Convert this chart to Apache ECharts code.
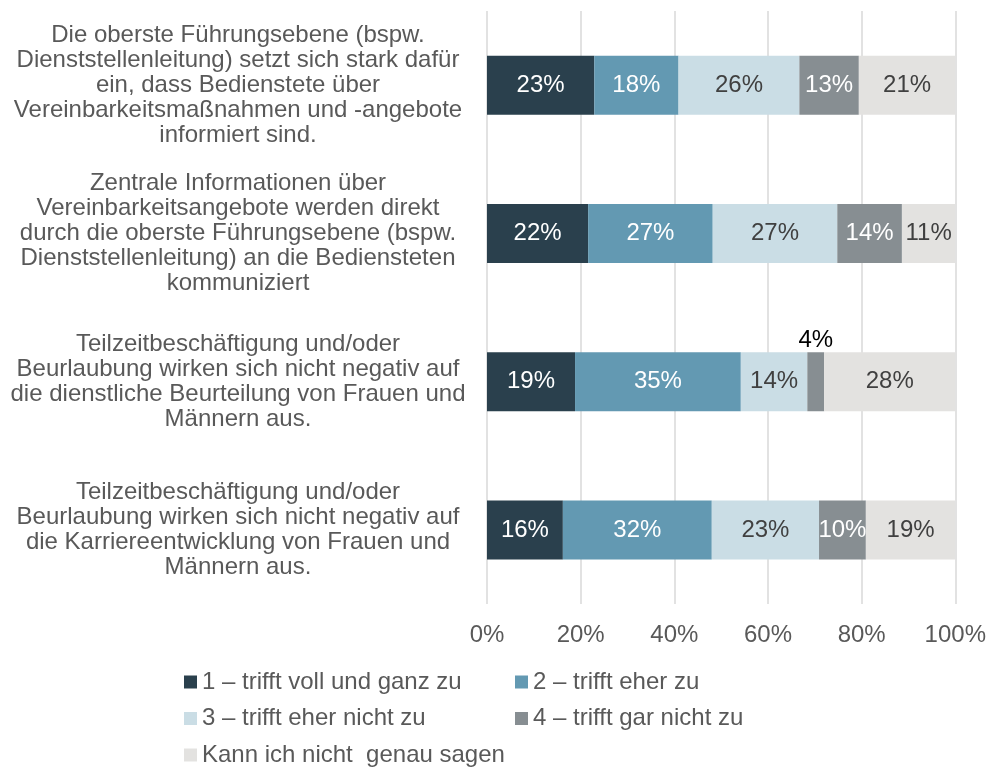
<!DOCTYPE html>
<html>
<head>
<meta charset="utf-8">
<script src="https://cdn.jsdelivr.net/npm/echarts@6/dist/echarts.min.js"></script>
<style>
  html, body { margin: 0; padding: 0; background: #fff; }
  #chart { width: 989px; height: 769px; }
</style>
</head>
<body>
<div id="chart"></div>
<script>
// Kategorien (Aussagen)
const categories = [
  'Die oberste Führungsebene (bspw.\nDienststellenleitung) setzt sich stark dafür\nein, dass Bedienstete über\nVereinbarkeitsmaßnahmen und -angebote\ninformiert sind.',
  'Zentrale Informationen über\nVereinbarkeitsangebote werden direkt\ndurch die oberste Führungsebene (bspw.\nDienststellenleitung) an die Bediensteten\nkommuniziert',
  'Teilzeitbeschäftigung und/oder\nBeurlaubung wirken sich nicht negativ auf\ndie dienstliche Beurteilung von Frauen und\nMännern aus.',
  'Teilzeitbeschäftigung und/oder\nBeurlaubung wirken sich nicht negativ auf\ndie Karriereentwicklung von Frauen und\nMännern aus.'
];

const seriesNames = [
  '1 – trifft voll und ganz zu',
  '2 – trifft eher zu',
  '3 – trifft eher nicht zu',
  '4 – trifft gar nicht zu',
  'Kann ich nicht  genau sagen'
];

// Anteile in % (aus dem Bild geschätzt)
const s1 = [22.9, 21.6, 18.8, 16.2];
const s2 = [18.0, 26.6, 35.4, 31.8];
const s3 = [25.8, 26.6, 14.2, 22.9];
const s4 = [12.7, 13.8, 3.6, 10.0];
const s5 = [20.6, 11.4, 28.0, 19.1];

const xTicks = [0, 20, 40, 60, 80, 100];

const colors = ['#2a404d', '#6399b2', '#cadde5', '#878e92', '#e3e2e0'];
const labelColors = ['#ffffff', '#ffffff', '#404040', '#ffffff', '#404040'];
const font = 'Liberation Sans, Arial, sans-serif';

const chart = echarts.init(document.getElementById('chart'));

const allSeries = [s1, s2, s3, s4, s5].map((vals, i) => ({
  name: seriesNames[i],
  type: 'bar',
  stack: 'total',
  barWidth: 59,
  itemStyle: { color: colors[i] },
  label: {
    show: true,
    position: 'inside',
    fontFamily: font,
    fontSize: 24,
    color: labelColors[i],
    formatter: p => Math.round(p.value) + '%'
  },
  data: vals.map(v => v < 5
    ? { value: v, label: { position: 'top', color: '#000000', distance: 0 } }
    : v)
}));

// zwei Legendenspalten
const legendBase = {
  orient: 'vertical',
  top: 665, height: 120,
  icon: 'rect', itemWidth: 13, itemHeight: 13, itemGap: 12.5,
  textStyle: { fontSize: 24, color: '#595959', fontFamily: font }
};

chart.setOption({
  animation: false,
  textStyle: { fontFamily: font },
  grid: { left: 487, right: 32, top: 11, bottom: 165 },
  legend: [
    Object.assign({}, legendBase, { left: 179, data: [seriesNames[0], seriesNames[2], seriesNames[4]] }),
    Object.assign({}, legendBase, { left: 510, data: [seriesNames[1], seriesNames[3]] })
  ],
  xAxis: {
    type: 'value',
    min: xTicks[0],
    max: xTicks[xTicks.length - 1],
    interval: 20,
    axisLine: { show: false },
    axisTick: { show: false },
    splitLine: { lineStyle: { color: '#d9d9d9', width: 1.5 } },
    axisLabel: {
      formatter: '{value}%',
      fontSize: 24,
      color: '#595959',
      margin: 19
    }
  },
  yAxis: {
    type: 'category',
    inverse: true,
    data: categories,
    axisLine: { show: false },
    axisTick: { show: false },
    axisLabel: {
      align: 'center',
      margin: 249,
      fontSize: 24,
      lineHeight: 25,
      color: '#595959'
    }
  },
  series: allSeries
});
</script>
</body>
</html>
